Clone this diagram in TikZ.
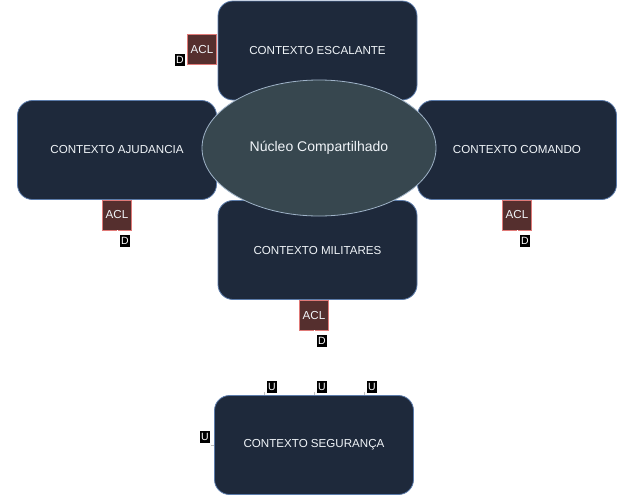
\documentclass[tikz,border=0pt]{standalone}
\usepackage{fontspec}
\setmainfont{Liberation Sans}
\usetikzlibrary{shapes.geometric}
\definecolor{boxfill}{HTML}{1E293B}
\definecolor{boxline}{HTML}{5B7BAA}
\definecolor{ellfill}{HTML}{37474F}
\definecolor{ellline}{HTML}{9FB3C8}
\definecolor{aclfill}{HTML}{552F2E}
\definecolor{aclline}{HTML}{E07A78}
\definecolor{txt}{HTML}{F1F5F9}
\tikzset{
  ctx/.style={draw=boxline, fill=boxfill, rounded corners=15pt, minimum width=199pt, minimum height=99pt, text=txt, font=\fontsize{11.6}{13}\selectfont, inner sep=0pt, line width=0.8pt},
  core/.style={ellipse, draw=ellline, fill=ellfill, minimum width=234pt, minimum height=136pt, text=txt, font=\fontsize{14}{16}\selectfont, inner sep=0pt, line width=0.8pt},
  acl/.style={draw=aclline, fill=aclfill, minimum width=29pt, minimum height=30pt, text=txt, font=\fontsize{11.6}{13}\selectfont, inner sep=0pt, line width=0.8pt},
  tag/.style={fill=black, text=white, font=\fontsize{10.5}{11}\selectfont, inner sep=1pt, minimum height=12pt},
  hidden/.style={draw=white, line width=0.8pt},
  tick/.style={draw=gray!50, line width=0.8pt}
}
\begin{document}
\begin{tikzpicture}[x=1pt,y=-1pt]
\useasboundingbox (0,0) rectangle (618,496);
% contexts
\node[ctx] (esc) at (317.5,50.5) {CONTEXTO ESCALANTE};
\node[ctx] (ajud) at (117,150) {CONTEXTO AJUDANCIA};
\node[ctx] (com) at (517,150) {CONTEXTO COMANDO};
\node[ctx] (mil) at (317.5,250) {CONTEXTO MILITARES};
\node[ctx] (seg) at (314,445) {CONTEXTO SEGURANÇA};
% core
\node[core] (core) at (319,148) {\raisebox{-1.5pt}{Núcleo Compartilhado}};
% ACLs
\node[acl] (acl1) at (202,49.5) {ACL};
\node[acl] (acl2) at (117,215) {ACL};
\node[acl] (acl3) at (517,215) {ACL};
\node[acl] (acl4) at (314,315) {ACL};
% D labels
\node[tag] (d1) at (180,60) {D};
\node[tag] (d2) at (125,240.5) {D};
\node[tag] (d3) at (525,240.5) {D};
\node[tag] (d4) at (322,340.5) {D};
\draw[hidden] (acl2.south) -- ++(0,3);
\draw[hidden] (acl3.south) -- ++(0,3);
\draw[hidden] (acl4.south) -- ++(0,3);
\draw[hidden] (acl1.west) -- ++(-3,0);
% U labels
\node[tag] (u1) at (272,386.5) {U};
\node[tag] (u2) at (322,386.5) {U};
\node[tag] (u3) at (372,386.5) {U};
\node[tag] (u4) at (205,437) {U};
\coordinate (t1) at (264,391.5);
\coordinate (t2) at (314,391.5);
\coordinate (t3) at (364,391.5);
\coordinate (t4) at (210.5,445);
\draw[tick] (t1) -- (t1 |- seg.north);
\draw[tick] (t2) -- (t2 |- seg.north);
\draw[tick] (t3) -- (t3 |- seg.north);
\draw[tick] (t4) -- (seg.west |- t4);
\end{tikzpicture}
\end{document}
